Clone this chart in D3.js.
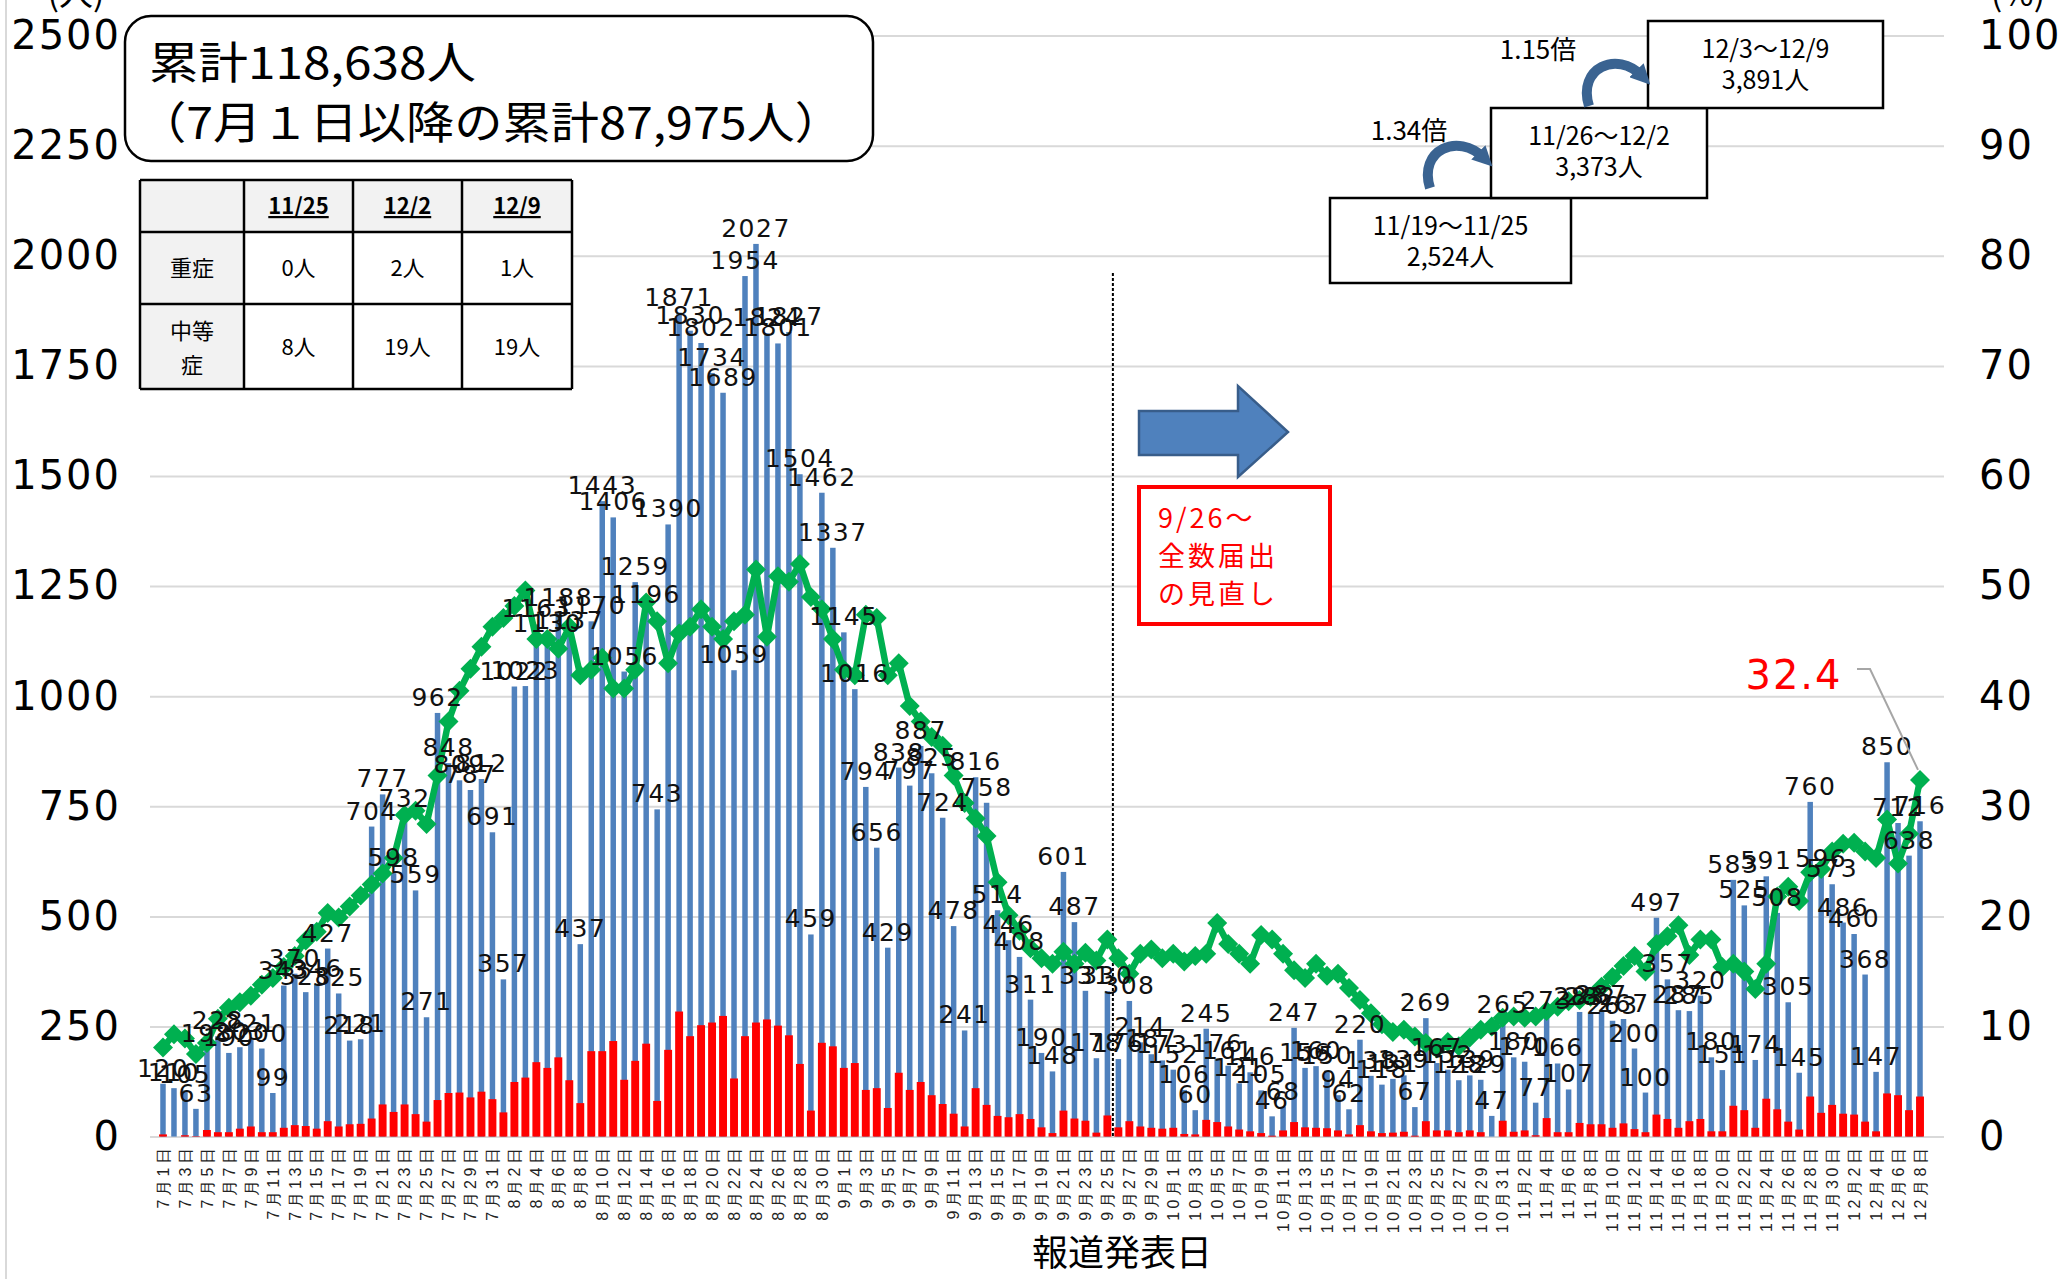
<!DOCTYPE html>
<html lang="ja">
<head>
<meta charset="UTF-8">
<title>新規陽性者数の推移</title>
<script src="https://cdn.jsdelivr.net/npm/d3@7/dist/d3.min.js"></script>
<style>
  body { margin: 0; background: #fff; }
  svg { display: block; }
</style>
</head>
<body>
<script>
var width = 2065, height = 1279;

// 月と日数（7月1日〜12月8日）
var months = [7, 8, 9, 10, 11, 12];
var monthDays = [31, 31, 30, 31, 30, 8];

// 新規陽性者数（青）
var cases = [
  120, 110, 105, 63, 198, 228, 190, 203, 221, 200, 99, 343, 370, 328, 346, 427, 325, 218, 221, 704, 777, 598, 732, 559, 271, 962, 848, 809, 787, 812, 691,
  357, 1022, 1023, 1163, 1130, 1188, 1137, 437, 1170, 1443, 1406, 1056, 1259, 1196, 743, 1390, 1871, 1830, 1802, 1734, 1689, 1059, 1954, 2027, 1824, 1801, 1827, 1504, 459, 1462, 1337,
  1145, 1016, 794, 656, 429, 838, 797, 887, 825, 724, 478, 241, 816, 758, 514, 446, 408, 311, 190, 148, 601, 487, 331, 178, 330, 176, 308, 214, 187, 173,
  152, 106, 60, 245, 176, 161, 121, 146, 105, 46, 68, 247, 156, 160, 150, 94, 62, 220, 138, 118, 131, 139, 67, 269, 167, 152, 128, 139, 129, 47, 265,
  180, 170, 77, 273, 166, 107, 283, 282, 287, 263, 267, 200, 100, 497, 357, 287, 285, 320, 180, 151, 583, 525, 174, 591, 508, 305, 145, 760, 596, 573,
  486, 460, 368, 147, 850, 712, 638, 716
];

// 赤の棒
var redBars = [
  5, 0, 3, 1, 15, 10, 10, 18, 23, 10, 10, 20, 26, 24, 18, 35, 23, 28, 29, 41, 73, 56, 73, 51, 34, 83, 99, 100, 89, 102, 85,
  55, 124, 134, 169, 156, 180, 128, 76, 194, 194, 217, 129, 172, 211, 81, 197, 284, 228, 253, 259, 274, 132, 228, 259, 266, 252, 230, 165, 59, 213, 205,
  156, 167, 106, 110, 65, 145, 106, 124, 94, 74, 52, 23, 110, 72, 47, 44, 51, 40, 21, 8, 59, 41, 36, 9, 48, 21, 35, 23, 20, 18,
  20, 6, 5, 38, 33, 23, 16, 12, 8, 2, 14, 33, 21, 20, 19, 14, 5, 26, 12, 8, 9, 11, 2, 35, 14, 14, 10, 14, 10, 0, 36,
  11, 14, 3, 42, 10, 10, 31, 28, 28, 20, 30, 17, 10, 50, 40, 20, 35, 40, 12, 12, 70, 60, 20, 86, 62, 34, 16, 91, 54, 72,
  52, 50, 34, 12, 98, 94, 60, 91
];

// 緑の折れ線（右軸 %）
var ratio = [
  8.1, 9.3, 8.9, 7.5, 8.5, 10.7, 11.7, 12.2, 12.8, 13.8, 14.4, 15.4, 16.4, 17.8, 18.6, 20.3, 19.9, 20.9, 21.9, 22.9, 23.9, 25.3, 29.2, 29.6, 28.4, 32.8, 37.7, 40.5, 42.5, 44.5, 46.3,
  47.1, 48.2, 49.6, 45.2, 45.2, 44.3, 46.3, 41.9, 42.4, 43.5, 40.7, 40.7, 42.4, 48.5, 46.8, 43.0, 45.7, 46.3, 47.9, 46.3, 45.2, 46.8, 47.4, 51.5, 45.4, 50.9, 50.4, 52.0, 49.0, 47.9, 45.2,
  42.4, 41.9, 47.4, 47.1, 41.9, 43.0, 39.1, 37.7, 36.3, 35.5, 32.8, 30.3, 28.9, 27.3, 23.1, 20.1, 18.7, 17.1, 16.2, 15.7, 16.8, 15.7, 16.7, 16.0, 17.9, 16.2, 14.8, 16.6, 17.0, 16.2,
  16.6, 15.9, 16.4, 16.6, 19.4, 17.5, 16.6, 15.7, 18.3, 17.9, 16.6, 15.1, 14.4, 15.7, 14.6, 14.8, 13.5, 12.4, 11.2, 10.2, 9.5, 9.7, 9.1, 8.5, 8.0, 8.6, 8.2, 9.0, 9.7, 10.0, 10.8,
  10.9, 10.8, 10.9, 11.4, 11.8, 12.3, 12.4, 12.7, 13.6, 14.5, 15.5, 16.4, 15.0, 17.5, 18.2, 19.2, 16.5, 17.9, 17.9, 15.4, 15.7, 15.0, 13.4, 15.7, 21.8, 22.7, 21.4, 24.0, 24.3, 25.9,
  26.6, 26.7, 25.9, 25.3, 28.8, 24.8, 27.5, 32.4
];

var yTicks = [0, 250, 500, 750, 1000, 1250, 1500, 1750, 2000, 2250, 2500];
var y2Ticks = [0, 10, 20, 30, 40, 50, 60, 70, 80, 90, 100];

// 表（重症・中等症）
var tableDates = ["11/25", "12/2", "12/9"];
var severe = ["0人", "2人", "1人"];
var moderate = ["8人", "19人", "19人"];

// 週ごとの件数
var weekLabels = ["11/19～11/25", "11/26～12/2", "12/3～12/9"];
var weekTotals = ["2,524人", "3,373人", "3,891人"];
var weekRatios = ["1.34倍", "1.15倍"];

var dates = [];
months.forEach(function (m, k) {
  for (var d = 1; d <= monthDays[k]; d++) dates.push(m + "月" + d + "日");
});

var jp = "'Noto Sans CJK JP', 'Noto Sans', sans-serif";
var num = "'DejaVu Sans', sans-serif";

var svg = d3.select("body").append("svg")
  .attr("width", width).attr("height", height)
  .style("font-family", jp);

var x = d3.scaleBand().domain(dates).range([157.5, 1925.5]);
var y = d3.scaleLinear().domain([0, 2500]).range([1136.6, 35.6]);
var y2 = d3.scaleLinear().domain([0, 100]).range([1136.6, 35.6]);
function cx(i) { return x(dates[i]) + x.bandwidth() / 2; }

// 左端の線
svg.append("line").attr("x1", 6).attr("x2", 6).attr("y1", 0).attr("y2", height)
  .attr("stroke", "#d9d9d9").attr("stroke-width", 2);

// 目盛線
var grid = svg.append("g").attr("transform", "translate(150,0)")
  .call(d3.axisLeft(y).tickValues(yTicks).tickSize(-1794).tickFormat(""));
grid.select(".domain").remove();
grid.selectAll("line").attr("stroke", "#d9d9d9").attr("stroke-width", 2);

// 左軸
var yl = svg.append("g").attr("transform", "translate(124,0)")
  .call(d3.axisLeft(y).tickValues(yTicks).tickSize(0).tickPadding(3).tickFormat(d3.format("d")));
yl.select(".domain").remove();
yl.selectAll("text").style("font-family", num).style("font-size", "40px")
  .style("letter-spacing", "2px").attr("fill", "#000");

// 右軸
var yr = svg.append("g").attr("transform", "translate(1976,0)")
  .call(d3.axisRight(y2).tickValues(y2Ticks).tickSize(0).tickPadding(3).tickFormat(d3.format("d")));
yr.select(".domain").remove();
yr.selectAll("text").style("font-family", num).style("font-size", "40px")
  .style("letter-spacing", "2px").attr("fill", "#000");

// 単位（上端で切れている）
svg.append("text").attr("x", 76).attr("y", 6).attr("text-anchor", "middle")
  .style("font-size", "34px").text("(人)");
svg.append("text").attr("x", 2018).attr("y", 6).attr("text-anchor", "middle")
  .style("font-size", "34px").text("(%)");

// 横軸
var xa = svg.append("g").attr("transform", "translate(0," + y(0) + ")")
  .call(d3.axisBottom(x).tickValues(dates.filter(function (d, i) { return i % 2 === 0; })).tickSize(0));
xa.select(".domain").attr("stroke", "#d9d9d9").attr("stroke-width", 2);
xa.selectAll("text")
  .attr("transform", "rotate(-90)")
  .attr("x", -8).attr("y", 0).attr("dy", "0.36em")
  .attr("text-anchor", "end")
  .style("font-size", "16px").style("letter-spacing", "3.5px").attr("fill", "#222");

svg.append("text").attr("x", 1122).attr("y", 1266).attr("text-anchor", "middle")
  .style("font-size", "36px").text("報道発表日");

// 青の棒
var bw = x.bandwidth() * 0.5;
svg.append("g").selectAll("rect").data(cases).enter().append("rect")
  .attr("x", function (d, i) { return cx(i) - bw / 2; })
  .attr("width", bw)
  .attr("y", function (d) { return y(d); })
  .attr("height", function (d) { return y(0) - y(d); })
  .attr("fill", "#4f81bd");

// 赤の棒
var rw = x.bandwidth() * 0.72;
svg.append("g").selectAll("rect").data(redBars).enter().append("rect")
  .attr("x", function (d, i) { return cx(i) - rw / 2; })
  .attr("width", rw)
  .attr("y", function (d) { return y(d); })
  .attr("height", function (d) { return y(0) - y(d); })
  .attr("fill", "#ff0000");

// 9/26の点線
svg.append("line")
  .attr("x1", x("9月26日")).attr("x2", x("9月26日"))
  .attr("y1", 273).attr("y2", y(0))
  .attr("stroke", "#000").attr("stroke-width", 2).attr("stroke-dasharray", "3,2");

// 緑の折れ線
var line = d3.line()
  .x(function (d, i) { return cx(i); })
  .y(function (d) { return y2(d); });
svg.append("path").datum(ratio).attr("d", line)
  .attr("fill", "none").attr("stroke", "#00b050").attr("stroke-width", 6.5)
  .attr("stroke-linejoin", "round");
var diamond = d3.symbol().type(d3.symbolSquare).size(200);
svg.append("g").selectAll("path").data(ratio).enter().append("path")
  .attr("d", diamond)
  .attr("transform", function (d, i) { return "translate(" + cx(i) + "," + y2(d) + ") rotate(45)"; })
  .attr("fill", "#00b050");

// データラベル
svg.append("g").selectAll("text").data(cases).enter().append("text")
  .attr("x", function (d, i) { return cx(i); })
  .attr("y", function (d) { return y(d) - 7; })
  .attr("text-anchor", "middle")
  .style("font-family", num).style("font-size", "25px").style("letter-spacing", "1.5px")
  .attr("fill", "#111")
  .text(function (d) { return d; });

// 最終値の吹き出し
var last = ratio.length - 1;
svg.append("polyline")
  .attr("points", [[1857, 669], [1870, 669], [cx(last) - 2, y2(ratio[last]) - 10]].join(" "))
  .attr("fill", "none").attr("stroke", "#a6a6a6").attr("stroke-width", 2);
svg.append("text").attr("x", 1794).attr("y", 689).attr("text-anchor", "middle")
  .style("font-family", num).style("font-size", "40px").style("letter-spacing", "2px")
  .attr("fill", "#ff0000").text(ratio[last].toFixed(1));

// 累計の枠
svg.append("rect").attr("x", 125).attr("y", 16).attr("width", 748).attr("height", 145)
  .attr("rx", 26).attr("fill", "#fff").attr("stroke", "#000").attr("stroke-width", 2.5);
svg.append("text").attr("x", 149).attr("y", 79)
  .attr("textLength", 327).attr("lengthAdjust", "spacingAndGlyphs")
  .style("font-size", "44px").text("累計118,638人");
svg.append("text").attr("x", 138).attr("y", 139)
  .attr("textLength", 705).attr("lengthAdjust", "spacingAndGlyphs")
  .style("font-size", "44px").text("（7月１日以降の累計87,975人）");

// 表
var tc = [140, 244, 353, 462, 572];
var tr = [180, 232, 304, 389];
var tbl = svg.append("g");
tbl.append("rect").attr("x", tc[0]).attr("y", tr[0]).attr("width", tc[4] - tc[0]).attr("height", tr[3] - tr[0])
  .attr("fill", "#fff");
tbl.append("rect").attr("x", tc[0]).attr("y", tr[0]).attr("width", tc[4] - tc[0]).attr("height", tr[1] - tr[0])
  .attr("fill", "#f2f2f2");
tbl.append("rect").attr("x", tc[0]).attr("y", tr[0]).attr("width", tc[1] - tc[0]).attr("height", tr[3] - tr[0])
  .attr("fill", "#f2f2f2");
tc.forEach(function (v) {
  tbl.append("line").attr("x1", v).attr("x2", v).attr("y1", tr[0]).attr("y2", tr[3])
    .attr("stroke", "#000").attr("stroke-width", 2.5);
});
tr.forEach(function (v) {
  tbl.append("line").attr("x1", tc[0]).attr("x2", tc[4]).attr("y1", v).attr("y2", v)
    .attr("stroke", "#000").attr("stroke-width", 2.5);
});
tableDates.forEach(function (t, k) {
  var mx = (tc[k + 1] + tc[k + 2]) / 2;
  tbl.append("text").attr("x", mx).attr("y", 214).attr("text-anchor", "middle")
    .style("font-size", "22px").style("font-weight", "bold")
    .style("text-decoration", "underline").text(t);
  tbl.append("text").attr("x", mx).attr("y", 276).attr("text-anchor", "middle")
    .style("font-size", "22px").text(severe[k]);
  tbl.append("text").attr("x", mx).attr("y", 355).attr("text-anchor", "middle")
    .style("font-size", "22px").text(moderate[k]);
});
tbl.append("text").attr("x", 192).attr("y", 276).attr("text-anchor", "middle")
  .style("font-size", "22px").text("重症");
tbl.append("text").attr("x", 192).attr("y", 339).attr("text-anchor", "middle")
  .style("font-size", "22px").text("中等");
tbl.append("text").attr("x", 192).attr("y", 373).attr("text-anchor", "middle")
  .style("font-size", "22px").text("症");

// 右向き矢印
svg.append("polygon")
  .attr("points", "1139,411 1238,411 1238,386 1288,432 1238,477 1238,455 1139,455")
  .attr("fill", "#4f81bd").attr("stroke", "#385d8a").attr("stroke-width", 2.5);

// 赤枠の注記
svg.append("rect").attr("x", 1139).attr("y", 487).attr("width", 191).attr("height", 137)
  .attr("fill", "#fff").attr("stroke", "#ff0000").attr("stroke-width", 4);
["9/26～", "全数届出", "の見直し"].forEach(function (t, k) {
  svg.append("text").attr("x", 1158).attr("y", 528 + k * 38)
    .style("font-size", "27px").style("letter-spacing", "3px")
    .attr("fill", "#ff0000").text(t);
});

// 週ごとの枠
var boxes = [
  { x: 1330, y: 198, w: 241, h: 85 },
  { x: 1491, y: 108, w: 216, h: 90 },
  { x: 1648, y: 21, w: 235, h: 87 }
];
boxes.forEach(function (b, k) {
  svg.append("rect").attr("x", b.x).attr("y", b.y).attr("width", b.w).attr("height", b.h)
    .attr("fill", "#fff").attr("stroke", "#000").attr("stroke-width", 2.5);
  svg.append("text").attr("x", b.x + b.w / 2).attr("y", b.y + 37).attr("text-anchor", "middle")
    .style("font-size", "25px").text(weekLabels[k]);
  svg.append("text").attr("x", b.x + b.w / 2).attr("y", b.y + 68).attr("text-anchor", "middle")
    .style("font-size", "25px").text(weekTotals[k]);
});
svg.append("text").attr("x", 1409).attr("y", 140).attr("text-anchor", "middle")
  .style("font-size", "26px").text(weekRatios[0]);
svg.append("text").attr("x", 1538).attr("y", 59).attr("text-anchor", "middle")
  .style("font-size", "26px").text(weekRatios[1]);

// 曲がった矢印
var defs = svg.append("defs");
defs.append("marker").attr("id", "head").attr("viewBox", "0 0 10 10")
  .attr("refX", 4).attr("refY", 5).attr("markerWidth", 20).attr("markerHeight", 20)
  .attr("markerUnits", "userSpaceOnUse").attr("orient", "auto")
  .append("path").attr("d", "M0,0 L10,5 L0,10 z").attr("fill", "#3a6391");
[
  "M1430,188 C1418,150 1458,132 1484,158",
  "M1589,106 C1577,68 1617,50 1642,76"
].forEach(function (p) {
  svg.append("path").attr("d", p).attr("fill", "none")
    .attr("stroke", "#3a6391").attr("stroke-width", 10)
    .attr("marker-end", "url(#head)");
});
</script>
</body>
</html>
